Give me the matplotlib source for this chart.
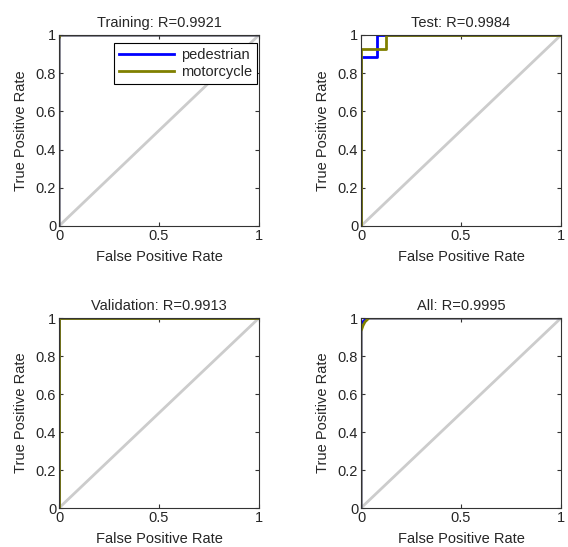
import matplotlib
matplotlib.use("Agg")
import matplotlib.pyplot as plt

plt.rcParams['font.family'] = ['Liberation Sans', 'DejaVu Sans']

titles = ["Training: R=0.9921", "Test: R=0.9984", "Validation: R=0.9913", "All: R=0.9995"]
series_names = ["pedestrian", "motorcycle"]

# ROC curves (FPR, TPR) per panel, per class
train_ped_fpr = [0, 0, 0.005, 1]
train_ped_tpr = [0, 0.98, 1, 1]
train_mot_fpr = [0, 0, 0.005, 1]
train_mot_tpr = [0, 0.98, 1, 1]

test_ped_fpr = [0, 0, 0.08, 0.08, 1]
test_ped_tpr = [0, 0.885, 0.885, 1, 1]
test_mot_fpr = [0, 0, 0.125, 0.125, 1]
test_mot_tpr = [0, 0.925, 0.925, 1, 1]

val_ped_fpr = [0, 0, 1]
val_ped_tpr = [0, 1, 1]
val_mot_fpr = [0, 0, 1]
val_mot_tpr = [0, 1, 1]

all_ped_fpr = [0, 0, 0.01, 0.03, 1]
all_ped_tpr = [0, 0.97, 0.98, 1, 1]
all_mot_fpr = [0, 0, 0.01, 0.02, 0.04, 1]
all_mot_tpr = [0, 0.93, 0.96, 0.98, 1, 1]

panels = [
    (train_ped_fpr, train_ped_tpr, train_mot_fpr, train_mot_tpr),
    (test_ped_fpr, test_ped_tpr, test_mot_fpr, test_mot_tpr),
    (val_ped_fpr, val_ped_tpr, val_mot_fpr, val_mot_tpr),
    (all_ped_fpr, all_ped_tpr, all_mot_fpr, all_mot_tpr),
]

W, H = 568, 547
fig = plt.figure(figsize=(W / 100, H / 100), dpi=100)

boxes = [(59, 35, 259, 226), (361, 35, 561, 226), (59, 318, 259, 508), (361, 318, 561, 508)]
txt = '#262626'
fs = 10.5

for i, (box, title, data) in enumerate(zip(boxes, titles, panels)):
    l, t, r, b = box
    ax = fig.add_axes([l / W, 1 - b / H, (r - l) / W, (b - t) / H])
    ax.plot([0, 1], [0, 1], color=(0.8, 0.8, 0.8), lw=2)
    pf, pt, mf, mt = data
    ax.plot(pf, pt, color=(0, 0, 1), lw=2, label=series_names[0])
    ax.plot(mf, mt, color=(0.5, 0.5, 0), lw=2, label=series_names[1])
    ax.set_xlim(0, 1)
    ax.set_ylim(0, 1)
    ax.set_xticks([0, 0.5, 1])
    ax.set_xticklabels(["0", "0.5", "1"])
    ax.set_yticks([0, 0.2, 0.4, 0.6, 0.8, 1])
    ax.set_yticklabels(["0", "0.2", "0.4", "0.6", "0.8", "1"])
    ax.tick_params(direction='in', top=True, right=True, labelsize=fs, length=3, pad=2,
                   color='#333333', labelcolor=txt)
    for s in ax.spines.values():
        s.set_color('#333333')
        s.set_linewidth(0.8)
    ax.set_title(title, fontsize=fs, pad=6, color=txt)
    ax.set_xlabel("False Positive Rate", fontsize=fs, labelpad=5, color=txt)
    ax.set_ylabel("True Positive Rate", fontsize=fs, labelpad=6, color=txt)
    if i == 0:
        leg = ax.legend(loc='upper right', bbox_to_anchor=(0.99, 0.96), fontsize=fs,
                        fancybox=False, framealpha=1,
                        edgecolor='black', handlelength=3.8, borderpad=0.35,
                        labelspacing=0.25, handletextpad=0.45, borderaxespad=0.0)
        leg.get_frame().set_linewidth(0.8)
        for tx in leg.get_texts():
            tx.set_color(txt)

fig.savefig("out.png", dpi=100, facecolor='white')
